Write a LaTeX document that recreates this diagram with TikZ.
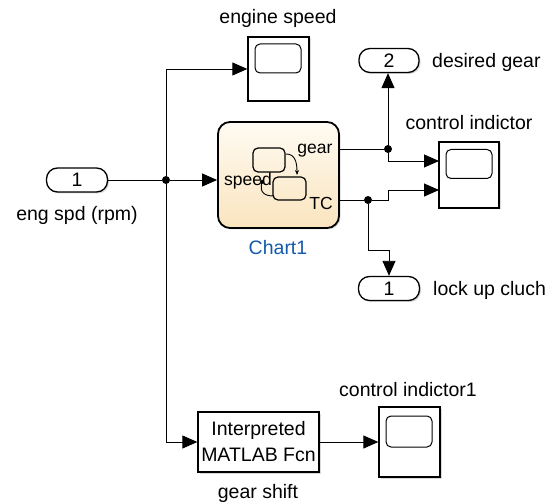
\documentclass[tikz,border=0pt]{standalone}
\usepackage{fontspec}
\setmainfont{Liberation Sans}
\usepackage{tikz}
\usetikzlibrary{arrows.meta,positioning,shadows}
\definecolor{chartblue}{RGB}{20,90,170}
\definecolor{charttop}{RGB}{255,251,243}
\definecolor{chartbot}{RGB}{250,228,190}

\begin{document}
\begin{tikzpicture}[x=1pt, y=-1pt,
    blk/.style={draw, line width=1.3pt, fill=white, inner sep=0pt, drop shadow={shadow xshift=1.5pt, shadow yshift=-1.5pt, opacity=0.3}},
    port/.style={blk, rounded corners=11pt, minimum width=61pt, minimum height=24pt, font=\fontsize{19.5}{22}\selectfont},
    scope/.style={blk, minimum width=61pt},
    screen/.style={draw, line width=1pt, rounded corners=5pt, minimum width=46pt, minimum height=29pt, inner sep=0pt},
    state/.style={draw, line width=1.2pt, rounded corners=5pt, inner sep=0pt},
    lbl/.style={font=\fontsize{19.5}{22}\selectfont, inner sep=0pt},
    sml/.style={font=\fontsize{17.5}{20}\selectfont, inner sep=0pt},
    dot/.style={circle, fill, inner sep=0pt, minimum size=8pt},
    wire/.style={line width=0.9pt},
    sig/.style={wire, -{Triangle[length=15pt, width=13pt]}}
]
\useasboundingbox (0,0) rectangle (554,502);

\node[port] (in1) at (77,180) {1};
\node[lbl] (l-in1) at (77,215) {eng spd (rpm)};
\node[dot] (j1) at (166,180) {};

\node[scope, minimum height=64pt] (sc1) at (278.5,69) {};
\node[screen] (scr1) at (278,58.5) {};
\node[lbl] (l-sc1) at (278,18) {engine speed};

\node[draw, line width=1.8pt, rounded corners=12pt, top color=charttop, bottom color=chartbot,
      minimum width=121pt, minimum height=106pt, inner sep=0pt,
      drop shadow={shadow xshift=1.5pt, shadow yshift=-1.5pt, opacity=0.3}] (chart) at (278.5,175) {};
\node[lbl, text=chartblue] (l-chart) at (278,248) {Chart1};
\node[state, minimum width=32pt, minimum height=24pt] (stA) at (269,160) {};
\node[state, minimum width=33pt, minimum height=23pt] (stB) at (289.5,188.5) {};
\node[sml] (t-gear) at (315,151) {gear};
\node[sml] (t-speed) at (248,181) {speed};
\node[sml] (t-tc) at (321,203) {TC};
\draw[line width=0.9pt, -{Stealth[length=5pt, width=4pt]}] (286,154) .. controls (295,154) and (297,162) .. (297,175);
\fill (262,182) circle (2pt);
\draw[line width=0.9pt] (262,182) .. controls (259,193) and (265,196) .. (274,196);
\coordinate (gear-out) at (339,149);
\coordinate (tc-out) at (339,200);

\node[dot] (d2) at (388,149) {};
\node[dot] (d3) at (368,200) {};

\node[port, minimum width=60pt] (out2) at (389,60.5) {2};
\node[lbl, anchor=west] (l-out2) at (432,62) {desired gear};

\node[scope, minimum width=60pt, minimum height=66pt] (sc2) at (469,175) {};
\node[screen] (scr2) at (469,164) {};
\node[lbl] (l-sc2) at (469,123) {control indictor};
\coordinate (sc2-in1) at (439,161);
\coordinate (sc2-in2) at (439,190);

\node[port] (out1) at (389,288.5) {1};
\node[lbl, anchor=west] (l-out1) at (433,290) {lock up cluch};

\node[blk, minimum width=121pt, minimum height=60pt, align=center,
      font=\fontsize{19.5}{26}\selectfont] (fcn) at (258.5,442) {Interpreted\\MATLAB Fcn};
\node[lbl] (l-fcn) at (258,493) {gear shift};

\node[scope, minimum height=70pt] (sc3) at (409.5,442) {};
\node[screen, minimum height=31pt] (scr3) at (409,431.5) {};
\node[lbl] (l-sc3) at (408,390) {control indictor1};

\draw[wire] (in1) -- (j1);
\draw[sig] (j1) -- (j1 -| chart.west);
\draw[sig] (j1) |- (sc1.west);
\draw[sig] (j1) |- (fcn.west);
\draw[sig] (fcn) -- (sc3);
\draw[wire] (gear-out) -- (d2);
\draw[sig] (d2) -- (d2 |- out2.south);
\draw[sig] (d2) |- (sc2-in1);
\draw[wire] (tc-out) -- (d3);
\draw[sig] (d3) -- ++(20,0) |- (sc2-in2);
\draw[sig] (d3) -- ++(0,50) -| (out1.north);
\end{tikzpicture}
\end{document}
